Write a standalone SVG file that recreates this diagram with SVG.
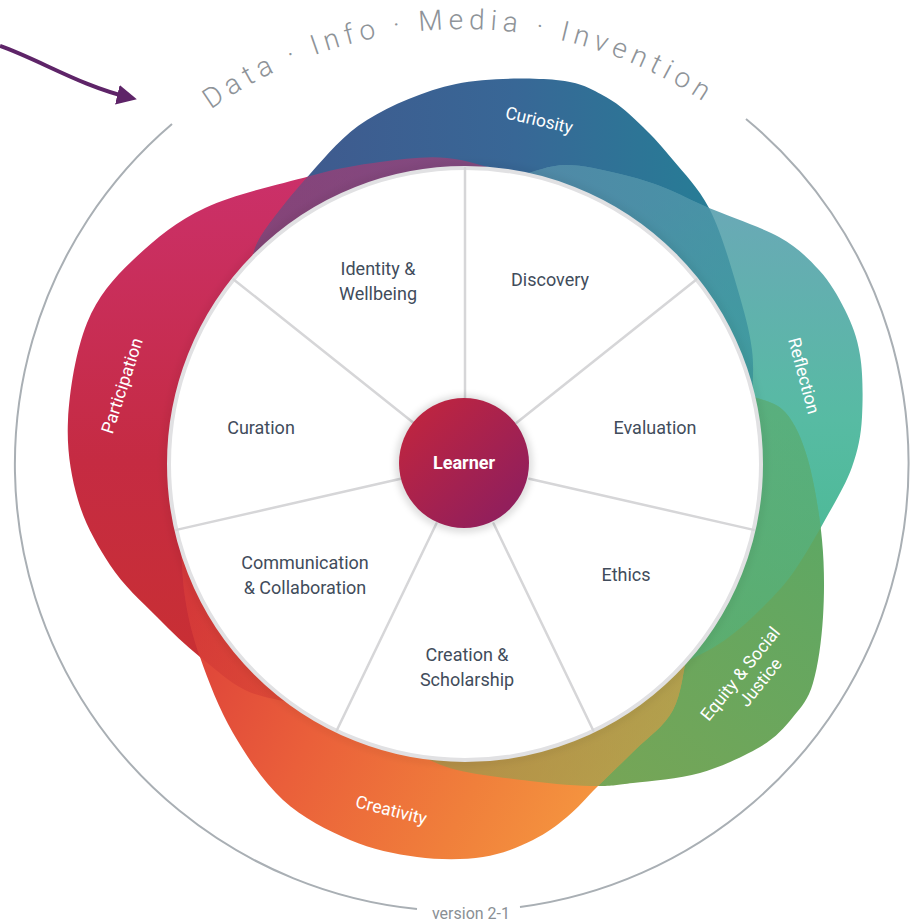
<svg xmlns="http://www.w3.org/2000/svg" width="912" height="923" viewBox="0 0 912 923">
<style>
.lbl{font-family:Roboto,"Liberation Sans",sans-serif;font-size:18px;fill:#414c5b;text-anchor:middle}
.blbl{font-family:Roboto,"Liberation Sans",sans-serif;font-size:17.5px;fill:#ffffff;text-anchor:middle}
.spoke{stroke:#d6d6d8;stroke-width:2.5;stroke-linecap:round}
.ring{fill:none;stroke:#a9afb4;stroke-width:2}
.arctxt{font-family:Roboto,"Liberation Sans",sans-serif;font-weight:300;font-size:28px;fill:#8e9398;letter-spacing:5.6px}
.mix{opacity:0.5}
.mixlight{opacity:0.38}
</style>
<defs>
<linearGradient id="gRed" gradientUnits="userSpaceOnUse" x1="0" y1="170" x2="0" y2="700">
<stop offset="0" stop-color="#cb306a"/><stop offset="0.55" stop-color="#c52b42"/><stop offset="1" stop-color="#c93030"/>
</linearGradient>
<linearGradient id="gBlue" gradientUnits="userSpaceOnUse" x1="300" y1="0" x2="730" y2="0">
<stop offset="0" stop-color="#3f5a8e"/><stop offset="0.5" stop-color="#386796"/><stop offset="1" stop-color="#257f96"/>
</linearGradient>
<linearGradient id="gRefl" gradientUnits="userSpaceOnUse" x1="0" y1="200" x2="0" y2="640">
<stop offset="0" stop-color="#6aa8b7"/><stop offset="0.5" stop-color="#57bba3"/><stop offset="1" stop-color="#46b98e"/>
</linearGradient>
<linearGradient id="gEq" gradientUnits="userSpaceOnUse" x1="820" y1="450" x2="560" y2="790">
<stop offset="0" stop-color="#5aa866"/><stop offset="1" stop-color="#78a555"/>
</linearGradient>
<linearGradient id="gOr" gradientUnits="userSpaceOnUse" x1="190" y1="600" x2="620" y2="820">
<stop offset="0" stop-color="#dc3f3a"/><stop offset="0.35" stop-color="#ea5f3a"/><stop offset="0.7" stop-color="#f07f3b"/><stop offset="1" stop-color="#f69a40"/>
</linearGradient>
<linearGradient id="gLearner" gradientUnits="userSpaceOnUse" x1="410" y1="410" x2="520" y2="520">
<stop offset="0" stop-color="#c0253f"/><stop offset="1" stop-color="#8c1e5f"/>
</linearGradient>
<path id="pRed" d="M505,172 C486,167 468,160 447,158 S403,159 380,162 S339,168 310,176 S235,194 205,208 S153,241 133,260 S98,296 87,323 S69.5,390.5 68,420 S71,476 78,500 S97,545 110,565 S142,602 157,617 S185,645 200,657 S229,682 245,690 S278,699 295,704 L309,684 A270,270 0 0 1 502,197 Z"/>
<path id="pBlue" d="M250,265 C254,254 253,248 263,233 S293,193 310,174 S343,135 367,120 S424.5,90.7 456,84 S531,78 556,80 S591.5,89 606,97 S632,116.5 643,127 S662,146.5 673,160 S698,187 709,208 S730,263 737,287 S749.5,330 752,350 S752,387 752,405 L729.5,409.7 A270,270 0 0 0 267,280.6 Z"/>
<path id="pRefl" d="M520,175 C535,172 549,165 566,165 S603.5,170 620,174 S650,182 665,188 S690,200 709,208 S761,227 779,237 S808,258 819,270 S838,296 845,310 S857,337 860,355 S863,398 862,417 S858,450 852,467 S834.5,503 825,520 S805,555.5 795,570 S775,595 763,607 S739,630 725,640 S695,657 680,665 L662,648.5 A270,270 0 0 0 515.6,198.8 Z"/>
<path id="pEq" d="M750,395 C762,401 775,401 785,412 S802,439 808,460 S819.5,514 822,540 S824.5,593 823,617 S818,666 813,683 S802,706 793,717 S775.5,738 760,747 S721,767 700,773 S650,781 633,783 S614,786 597,786 S553,784 530,781 S477,775 457,770 S427,758 412,752 L416,729.6 A270,270 0 0 0 727.4,400.5 Z"/>
<path id="pOr" d="M688,650 C683,670 682,693 673,710 S648,737 635,750 S608,776 597,787 S578,808 567,817 S547,833 533,840 S502,854 483,857 S439,860 417,857 S372,849.5 350,840 S302.5,818 283,800 S247,757 233,733 S208,680 200,657 S188,617 185,597 S182,556 180,535 L203,529 A270,270 0 0 0 672.5,636.8 Z"/>
<clipPath id="cBlue"><use href="#pBlue"/></clipPath>
<clipPath id="cRefl"><use href="#pRefl"/></clipPath>
<clipPath id="cEq"><use href="#pEq"/></clipPath>
<clipPath id="cOr"><use href="#pOr"/></clipPath>
<path id="arcTop" d="M86.3,246.5 A435,435 0 0 1 839.7,246.5"/>
<marker id="ah" viewBox="0 0 10 10" refX="7" refY="5" markerWidth="5" markerHeight="5" orient="auto" markerUnits="strokeWidth">
<path d="M0,0 L10,5 L0,10 Z" fill="#5e2468"/>
</marker>
<filter id="soft" x="-20%" y="-20%" width="140%" height="140%">
<feGaussianBlur stdDeviation="3"/>
</filter>
</defs>

<rect width="912" height="923" fill="#ffffff"/>

<g id="outer-ring">
<path class="ring" d="M746,119 A447,447 0 0 1 520,907"/>
<path class="ring" d="M417,909 A447,447 0 0 1 172,124"/>
<text class="arctxt"><textPath href="#arcTop" startOffset="49.5%" text-anchor="middle">Data · Info · Media · Invention</textPath></text>
<text x="471" y="919" font-family="Roboto,'Liberation Sans',sans-serif" font-size="16" fill="#8a8f94" text-anchor="middle">version 2-1</text>
</g>

<g id="bands">
<g id="band-participation"><use href="#pRed" fill="url(#gRed)"/></g>
<g id="band-curiosity"><use href="#pBlue" fill="url(#gBlue)"/></g>
<g id="band-reflection"><use href="#pRefl" fill="url(#gRefl)"/></g>
<g id="band-equity"><use href="#pEq" fill="url(#gEq)"/></g>
<g id="band-creativity"><use href="#pOr" fill="url(#gOr)"/></g>
<g class="mix" clip-path="url(#cBlue)"><use href="#pRed" fill="url(#gRed)"/></g>
<g class="mix" clip-path="url(#cRefl)"><use href="#pBlue" fill="url(#gBlue)"/></g>
<g class="mixlight" clip-path="url(#cEq)"><use href="#pRefl" fill="url(#gRefl)"/></g>
<g class="mix" clip-path="url(#cOr)"><use href="#pEq" fill="url(#gEq)"/></g>
<g class="mixlight" clip-path="url(#cOr)"><use href="#pRed" fill="url(#gRed)"/></g>
<text class="blbl" transform="translate(539,121) rotate(13)" dy="5">Curiosity</text>
<text class="blbl" transform="translate(803,376) rotate(75)" dy="5">Reflection</text>
<text class="blbl" transform="translate(123,386) rotate(-72)" dy="5">Participation</text>
<text class="blbl" transform="translate(391,811) rotate(14)" dy="5">Creativity</text>
<text class="blbl" transform="translate(748,680) rotate(-51)"><tspan x="0" y="-4">Equity &amp; Social</tspan><tspan x="6" y="17">Justice</tspan></text>
</g>

<g id="wheel">
<circle cx="465" cy="464" r="299" fill="none" stroke="#000" stroke-opacity="0.06" stroke-width="6" filter="url(#soft)"/>
<circle cx="465" cy="464" r="296" fill="#ffffff" stroke="#e1e1e3" stroke-width="4"/>
</g>

<g id="spokes">
<line class="spoke" x1="465" y1="398" x2="465" y2="168"/>
<line class="spoke" x1="516.6" y1="422.8" x2="696.4" y2="279.4"/>
<line class="spoke" x1="529.3" y1="478.7" x2="753.6" y2="529.9"/>
<line class="spoke" x1="493.6" y1="523.5" x2="593.4" y2="730.7"/>
<line class="spoke" x1="436.4" y1="523.5" x2="336.6" y2="730.7"/>
<line class="spoke" x1="400.7" y1="478.7" x2="176.4" y2="529.9"/>
<line class="spoke" x1="413.4" y1="422.8" x2="233.6" y2="279.4"/>
</g>

<g id="node-identity"><text class="lbl" x="378" y="275">Identity &amp;</text><text class="lbl" x="378" y="300">Wellbeing</text></g>
<g id="node-discovery"><text class="lbl" x="550" y="286">Discovery</text></g>
<g id="node-evaluation"><text class="lbl" x="655" y="434">Evaluation</text></g>
<g id="node-ethics"><text class="lbl" x="626" y="581">Ethics</text></g>
<g id="node-creation"><text class="lbl" x="467" y="661">Creation &amp;</text><text class="lbl" x="467" y="686">Scholarship</text></g>
<g id="node-communication"><text class="lbl" x="305" y="569">Communication</text><text class="lbl" x="305" y="594">&amp; Collaboration</text></g>
<g id="node-curation"><text class="lbl" x="261" y="434">Curation</text></g>

<g id="node-learner">
<circle cx="464" cy="464" r="69" fill="#000" fill-opacity="0.12" filter="url(#soft)"/>
<circle cx="464" cy="463" r="65" fill="url(#gLearner)"/>
<text x="464" y="469" font-family="Roboto,'Liberation Sans',sans-serif" font-size="18" font-weight="bold" fill="#ffffff" text-anchor="middle">Learner</text>
</g>

<g id="connectors">
<path d="M0,46 C40,60 80,86 131,98" fill="none" stroke="#5e2468" stroke-width="4" marker-end="url(#ah)"/>
</g>
</svg>
